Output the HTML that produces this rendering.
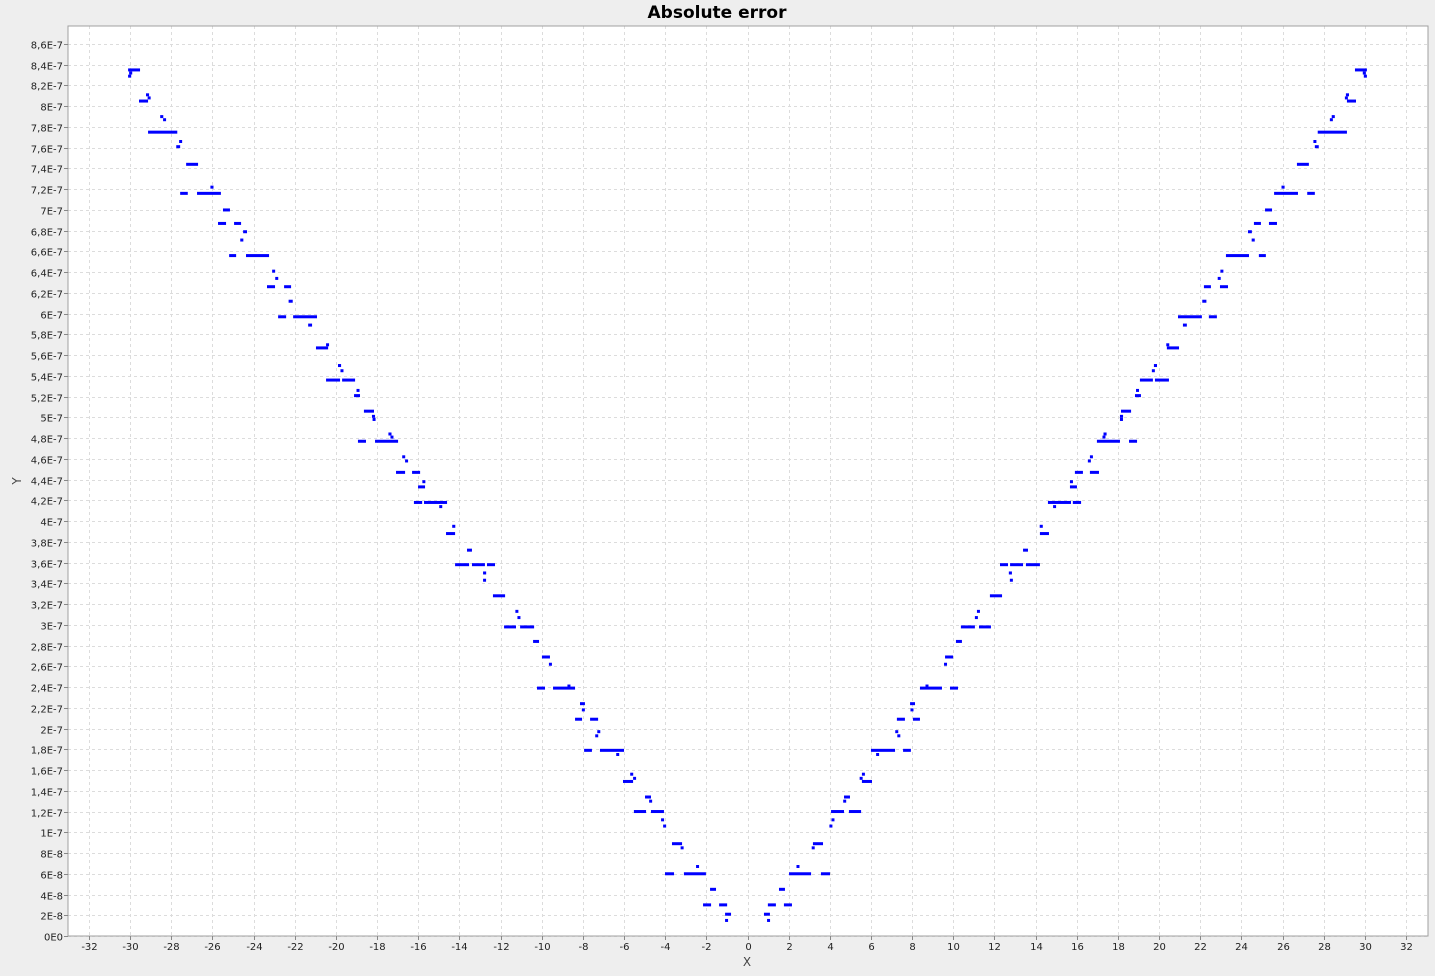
<!DOCTYPE html>
<html><head><meta charset="utf-8">
<style>
html,body{margin:0;padding:0;background:#eeeeee;}
svg{display:block;font-family:"DejaVu Sans","Liberation Sans",sans-serif;}
</style></head>
<body>
<svg id="chart" width="1435" height="976" xmlns="http://www.w3.org/2000/svg">
<rect x="0" y="0" width="1435" height="976" fill="#eeeeee"/>
<text x="717" y="18" text-anchor="middle" font-size="17" font-weight="bold" fill="#000">Absolute error</text>
<rect x="68" y="26" width="1360" height="910" fill="#ffffff"/>
<g id="grid"></g>
<g id="marks"></g>
<rect x="68" y="26" width="1360" height="910" fill="none" stroke="#a0a0a0"/>
<g id="xaxis"></g>
<g id="yaxis"></g>
<text x="747" y="966" text-anchor="middle" font-size="12" fill="#444">X</text>
<text x="21" y="481" text-anchor="middle" font-size="12" fill="#444" transform="rotate(-90 21 481)">Y</text>
</svg>
<script>
// x ticks
const xTicks = [-32,-30,-28,-26,-24,-22,-20,-18,-16,-14,-12,-10,-8,-6,-4,-2,0,2,4,6,8,10,12,14,16,18,20,22,24,26,28,30,32];
// y ticks in units of 1e-8
const yTicks = [0,2,4,6,8,10,12,14,16,18,20,22,24,26,28,30,32,34,36,38,40,42,44,46,48,50,52,54,56,58,60,62,64,66,68,70,72,74,76,78,80,82,84,86];
const yTickLabels = ["0E0","2E-8","4E-8","6E-8","8E-8","1E-7","1,2E-7","1,4E-7","1,6E-7","1,8E-7","2E-7","2,2E-7","2,4E-7","2,6E-7","2,8E-7","3E-7","3,2E-7","3,4E-7","3,6E-7","3,8E-7","4E-7","4,2E-7","4,4E-7","4,6E-7","4,8E-7","5E-7","5,2E-7","5,4E-7","5,6E-7","5,8E-7","6E-7","6,2E-7","6,4E-7","6,6E-7","6,8E-7","7E-7","7,2E-7","7,4E-7","7,6E-7","7,8E-7","8E-7","8,2E-7","8,4E-7","8,6E-7"];
// left-half segments (mirrored for right half): start x, end x, y (1e-8)
const segStart = [-30.10,-30.05,-30.10,-29.57,-29.23,-29.15,-29.13,-28.54,-28.40,-27.76,-27.62,-27.28,-27.57,-26.75,-26.10,-25.49,-25.73,-24.95,-24.51,-24.65,-25.19,-24.37,-23.10,-22.95,-23.35,-22.52,-22.30,-22.81,-22.08,-21.35,-20.97,-20.48,-20.48,-19.70,-19.90,-19.78,-19.12,-19.00,-18.64,-18.25,-18.22,-18.93,-18.10,-17.45,-17.35,-17.08,-16.30,-16.78,-16.64,-16.01,-15.80,-16.21,-15.72,-14.98,-14.65,-14.35,-13.63,-14.21,-13.39,-12.66,-12.85,-12.85,-12.37,-11.28,-11.18,-11.83,-11.05,-10.42,-9.99,-9.65,-10.23,-9.45,-8.75,-8.14,-8.05,-8.38,-7.65,-7.30,-7.40,-7.94,-7.17,-6.38,-5.70,-5.56,-6.05,-4.98,-4.78,-5.52,-4.69,-4.20,-4.10,-3.67,-3.25,-4.01,-3.09,-2.50,-1.82,-2.16,-1.38,-1.09,-1.09];
const segEnd   = [-29.52,-29.90,-29.95,-29.13,-29.08,-29.03,-27.71,-28.39,-28.30,-27.57,-27.50,-26.70,-27.20,-25.59,-25.95,-25.15,-25.34,-24.61,-24.32,-24.50,-24.85,-23.25,-22.98,-22.85,-22.96,-22.18,-22.10,-22.42,-20.92,-21.16,-20.38,-20.35,-19.80,-19.07,-19.75,-19.65,-18.83,-18.88,-18.15,-18.10,-18.10,-18.54,-16.98,-17.30,-17.25,-16.64,-15.91,-16.64,-16.54,-15.67,-15.67,-15.81,-14.60,-14.85,-14.21,-14.20,-13.39,-13.53,-12.76,-12.27,-12.70,-12.75,-11.78,-11.15,-11.05,-11.25,-10.37,-10.13,-9.60,-9.55,-9.84,-8.38,-8.65,-7.90,-7.92,-8.04,-7.26,-7.18,-7.28,-7.56,-6.00,-6.25,-5.56,-5.45,-5.56,-4.69,-4.65,-4.93,-4.06,-4.08,-3.98,-3.18,-3.12,-3.57,-2.02,-2.38,-1.53,-1.77,-0.99,-0.80,-0.95];
const segY     = [83.5,83.2,82.9,80.5,81.1,80.8,77.5,79.0,78.7,76.1,76.6,74.4,71.6,71.6,72.2,70.0,68.7,68.7,67.9,67.1,65.6,65.6,64.1,63.4,62.6,62.6,61.2,59.7,59.7,58.9,56.7,57.0,53.6,53.6,55.0,54.5,52.1,52.6,50.6,50.1,49.8,47.7,47.7,48.4,48.1,44.7,44.7,46.2,45.8,43.3,43.8,41.8,41.8,41.4,38.8,39.5,37.2,35.8,35.8,35.8,35.0,34.3,32.8,31.3,30.7,29.8,29.8,28.4,26.9,26.2,23.9,23.9,24.1,22.4,21.8,20.9,20.9,19.7,19.3,17.9,17.9,17.5,15.6,15.2,14.9,13.4,13.0,12.0,12.0,11.2,10.6,8.9,8.5,6.0,6.0,6.7,4.5,3.0,3.0,2.1,1.5];

const NS='http://www.w3.org/2000/svg';
const X0=747.5, XS=(1406-89)/64;
const Y0=936, YS=(936-44)/86;
function sx(v){return X0+v*XS;}
function sy(v){return Y0-v*YS;}
function mk(tag,attrs,parent){const e=document.createElementNS(NS,tag);for(const k in attrs)e.setAttribute(k,attrs[k]);parent.appendChild(e);return e;}

const grid=document.getElementById('grid');
const xa=document.getElementById('xaxis');
const ya=document.getElementById('yaxis');
xTicks.forEach(t=>{
  const x=Math.round(sx(t))+0.5;
  const g=mk('line',{x1:x,x2:x,y1:26,y2:936,stroke:'#dcdcdc','stroke-dasharray':'3,3'},grid);
  
  
  const tk=mk('line',{x1:x,x2:x,y1:936,y2:940,stroke:'#888'},xa);
  
  
  const lb=mk('text',{x:x,y:950,'text-anchor':'middle','font-size':'10','fill':'#222'},xa);
  lb.textContent=String(t);
  
  
});
yTicks.forEach((t,i)=>{
  const y=Math.round(sy(t))+0.5;
  const g=mk('line',{x1:68,x2:1428,y1:y,y2:y,stroke:'#dcdcdc','stroke-dasharray':'3,3'},grid);
  
  
  const tk=mk('line',{x1:64,x2:68,y1:y,y2:y,stroke:'#888'},ya);
  
  
  const lb=mk('text',{x:63,y:y+4,'text-anchor':'end','font-size':'10','fill':'#222'},ya);
  lb.textContent=yTickLabels[i];
  
  
});
const marks=document.getElementById('marks');
for(let i=0;i<segY.length;i++){
  [1,-1].forEach(s=>{
    let a=sx(s*segStart[i]), b=sx(s*segEnd[i]);
    const x1=Math.min(a,b), w=Math.max(3,Math.abs(b-a));
    const r=mk('rect',{x:x1,y:sy(segY[i])-1.5,width:w,height:3,fill:'#0000ff'},marks);
    
    
  });
}
</script>
</body></html>
